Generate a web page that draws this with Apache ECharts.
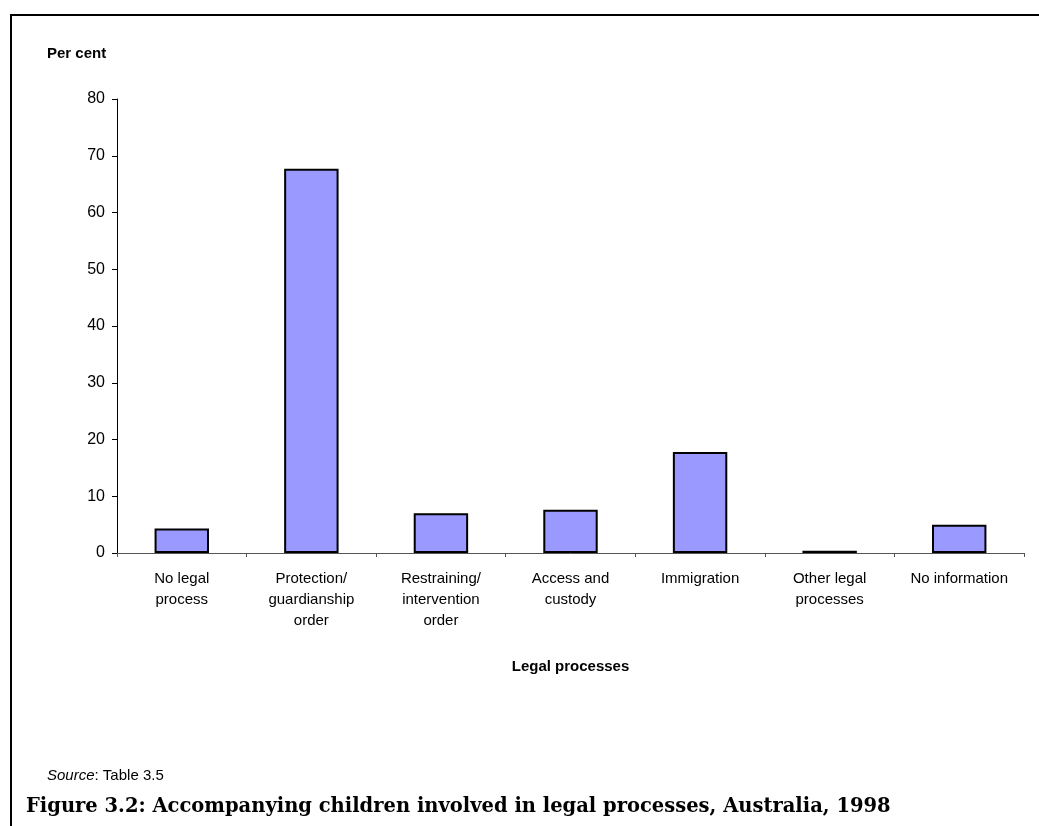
<!DOCTYPE html>
<html>
<head>
<meta charset="utf-8">
<script src="https://cdn.jsdelivr.net/npm/echarts@6/dist/echarts.min.js"></script>
<style>
html,body{margin:0;padding:0;background:#fff;}
#chart{width:1039px;height:826px;}
</style>
</head>
<body>
<div id="chart"></div>
<script>
const categories = ['No legal\nprocess', 'Protection/\nguardianship\norder', 'Restraining/\nintervention\norder', 'Access and\ncustody', 'Immigration', 'Other legal\nprocesses', 'No information'];
const values = [4.3, 67.7, 7.0, 7.6, 17.8, 0.4, 5.0];
const yTicks = { min: 0, max: 80, interval: 10 };

const chart = echarts.init(document.getElementById('chart'), null, { renderer: 'canvas' });
const font = "'Liberation Sans', Arial, sans-serif";
chart.setOption({
  animation: false,
  backgroundColor: '#fff',
  grid: { left: 117, right: 15, top: 99, bottom: 273, containLabel: false },
  xAxis: {
    type: 'category',
    data: categories,
    axisLine: { lineStyle: { color: '#555', width: 1 } },
    axisTick: { show: true, length: 4, lineStyle: { color: '#555' } },
    axisLabel: { color: '#000', fontFamily: font, fontSize: 15, lineHeight: 21, margin: 15, interval: 0 },
    name: 'Legal processes',
    nameLocation: 'middle',
    nameGap: 106,
    nameTextStyle: { color: '#000', fontFamily: font, fontSize: 15, fontWeight: 'bold' }
  },
  yAxis: {
    type: 'value',
    min: yTicks.min, max: yTicks.max, interval: yTicks.interval,
    axisLine: { show: true, lineStyle: { color: '#000', width: 1 } },
    axisTick: { show: true, length: 5, lineStyle: { color: '#000' } },
    splitLine: { show: false },
    axisLabel: { color: '#000', fontFamily: font, fontSize: 16, margin: 12 }
  },
  series: [{
    type: 'bar',
    data: values,
    barCategoryGap: '58%',
    itemStyle: { color: '#9999ff', borderColor: '#000', borderWidth: 2 }
  }],
  graphic: [
    { type: 'line', shape: { x1: 10, y1: 15, x2: 1039, y2: 15 }, style: { stroke: '#000', lineWidth: 2 } },
    { type: 'line', shape: { x1: 11, y1: 14, x2: 11, y2: 826 }, style: { stroke: '#000', lineWidth: 2 } },
    { type: 'text', left: 47, top: 46, style: { text: 'Per cent', font: "bold 15px 'Liberation Sans', Arial, sans-serif", fill: '#000' } },
    { type: 'text', left: 47, top: 768, style: { rich: { i: { fontStyle: 'italic', fontFamily: font, fontSize: 15, fill: '#000' }, n: { fontFamily: font, fontSize: 15, fill: '#000' } }, text: '{i|Source}{n|: Table 3.5}' } },
    { type: 'text', left: 26, top: 797, style: { text: 'Figure 3.2: Accompanying children involved in legal processes, Australia, 1998', font: "bold 19.5px 'DejaVu Serif', 'Liberation Serif', serif", fill: '#000' } }
  ]
});
</script>
</body>
</html>
